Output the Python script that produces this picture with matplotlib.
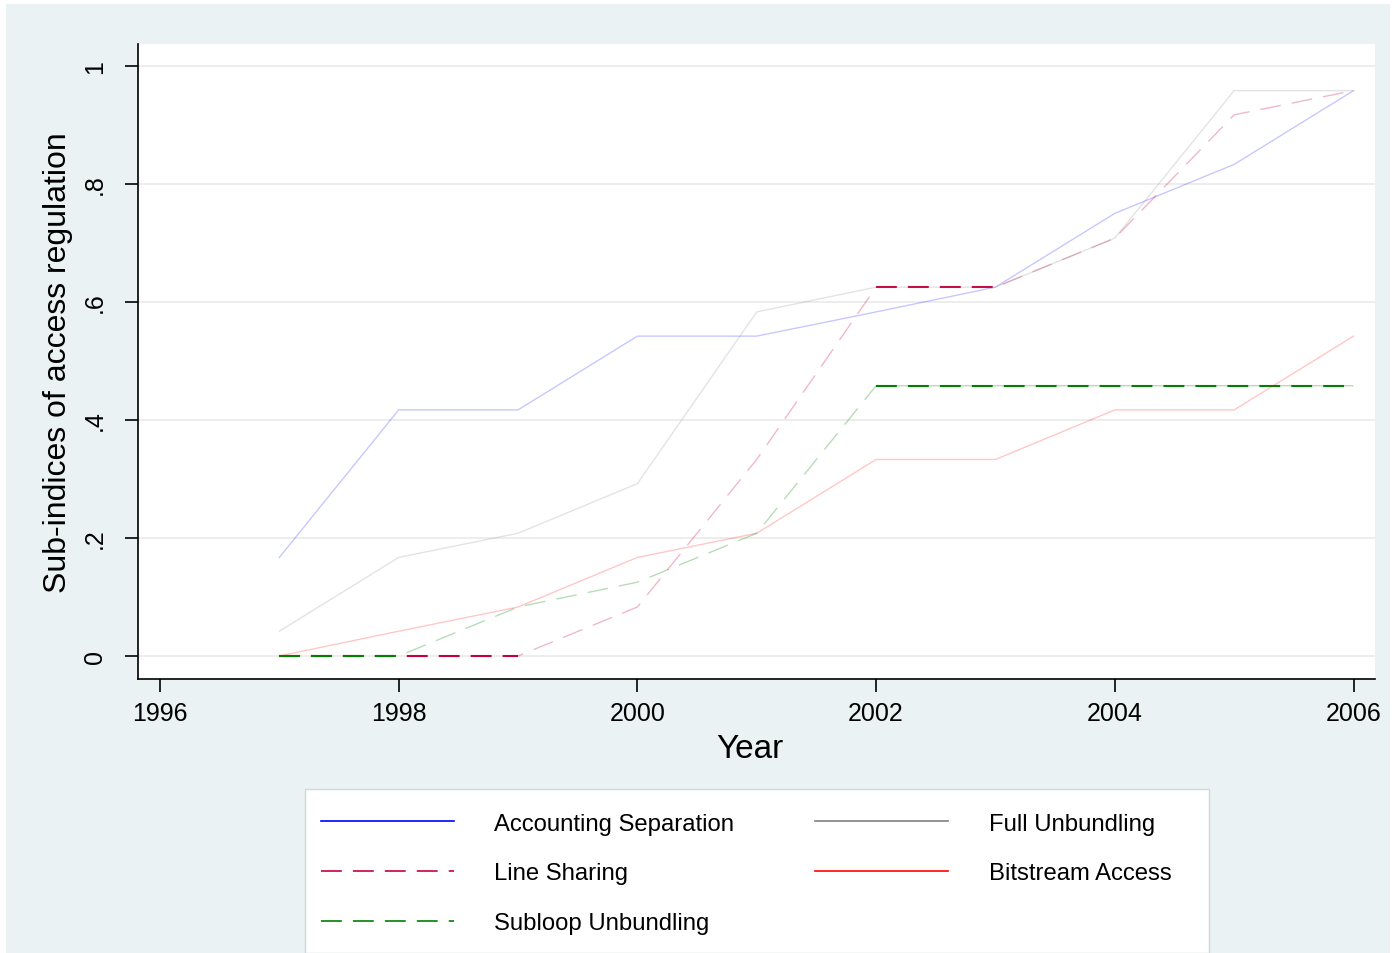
import numpy as np
import matplotlib
matplotlib.use("Agg")
import matplotlib.pyplot as plt
from matplotlib.lines import Line2D
from matplotlib.patches import Rectangle

plt.rcParams['font.family'] = ['Liberation Sans', 'DejaVu Sans']
plt.rcParams['lines.scale_dashes'] = False

years = [1997, 1998, 1999, 2000, 2001, 2002, 2003, 2004, 2005, 2006]
accounting = [0.167, 0.417, 0.417, 0.542, 0.542, 0.583, 0.625, 0.750, 0.833, 0.958]
full_unb = [0.042, 0.167, 0.208, 0.292, 0.583, 0.625, 0.625, 0.708, 0.958, 0.958]
line_sharing = [0.0, 0.0, 0.0, 0.083, 0.333, 0.625, 0.625, 0.708, 0.917, 0.958]
bitstream = [0.0, 0.042, 0.083, 0.167, 0.208, 0.333, 0.333, 0.417, 0.417, 0.542]
subloop = [0.0, 0.0, 0.083, 0.125, 0.208, 0.458, 0.458, 0.458, 0.458, 0.458]

labels = ["Accounting Separation", "Line Sharing", "Subloop Unbundling",
          "Full Unbundling", "Bitstream Access"]
colors = ["#0000ff", "#c8003c", "#008000", "#808080", "#ff0000"]
styles = ["-", (0, (15, 8)), (0, (15, 8)), "-", "-"]
series = [accounting, line_sharing, subloop, full_unb, bitstream]

W, H = 1395, 954
fig = plt.figure(figsize=(W / 100, H / 100), dpi=100)
fig.patch.set_facecolor("white")
fig.patches.append(Rectangle((6 / W, 0), 1384 / W, 1 - 5 / H, transform=fig.transFigure,
                             facecolor="#eaf2f3", edgecolor="none", zorder=-10))

ax = fig.add_axes([138 / W, 1 - 680 / H, 1237 / W, 635 / H])
ax.set_facecolor("white")

yrs = np.array(years)
for vals, c, ls in zip(series, colors, styles):
    v = np.array(vals, dtype=float)
    ax.plot(yrs, v, color=c, ls=ls, lw=1.0, alpha=0.22 if ls == "-" else 0.28)
    if ls != "-":
        # flat stretches come out crisp in the original
        flat = np.full_like(v, np.nan)
        for i in range(len(v) - 1):
            if v[i] == v[i + 1]:
                flat[i] = v[i]
                flat[i + 1] = v[i]
        ax.plot(yrs, flat, color=c, ls=ls, lw=1.5)

ax.set_xlim(1995.816, 2006.18)
ax.set_ylim(-0.039, 1.037)
ax.set_xticks([1996, 1998, 2000, 2002, 2004, 2006])
ax.set_yticks([0, 0.2, 0.4, 0.6, 0.8, 1.0])
ax.set_yticklabels(["0", ".2", ".4", ".6", ".8", "1"], rotation=90, va="center")
ax.grid(axis="y", color="#eaeaea", lw=1.2)
ax.set_axisbelow(True)
for s in ["top", "right"]:
    ax.spines[s].set_visible(False)
for s in ["left", "bottom"]:
    ax.spines[s].set_color("black")
    ax.spines[s].set_linewidth(1.2)
ax.tick_params(axis="both", length=9.5, width=1.2, labelsize=18)
ax.tick_params(axis="y", pad=13)
ax.tick_params(axis="x", pad=6)
ax.set_xlabel("Year", fontsize=24)
ax.xaxis.set_label_coords(0.495, -0.085)
ax.set_ylabel("Sub-indices of access regulation", fontsize=23)
ax.yaxis.set_label_coords(-0.0525, 0.5)

# legend box
fig.patches.append(Rectangle((305 / W, 0), 904 / W, 1 - 790 / H, transform=fig.transFigure,
                             facecolor="white", edgecolor="#d0d8da", lw=1.0, zorder=1))
handles = [Line2D([0], [0], color=c, ls=ls, lw=1.2) for c, ls in zip(colors, styles)]
leg = fig.legend(handles, labels, ncol=2, loc="upper left",
                 bbox_to_anchor=(299 / W, 1 - 792 / H), frameon=False,
                 fontsize=17.2, handlelength=5.57, handletextpad=1.7,
                 columnspacing=3.4, labelspacing=1.17)
leg.set_zorder(2)

fig.savefig("out.png", dpi=100)
